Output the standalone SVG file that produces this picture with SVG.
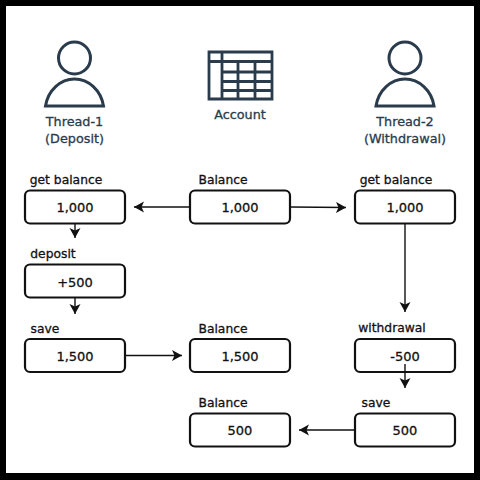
<svg xmlns="http://www.w3.org/2000/svg" width="480" height="480" viewBox="0 0 480 480">
<style>
text{font-family:"DejaVu Sans","Noto Sans",sans-serif;font-size:12.300px;fill:#111;stroke:#111;stroke-width:.3;text-anchor:middle}
.b{fill:#fff;stroke:#111;stroke-width:2.2}
.v{font-size:13px}
.s{fill:#2a3b4c;stroke:#2a3b4c;font-size:12.800px}
.i{fill:none;stroke:#2a3b4c;stroke-width:3}
.t{fill:none;stroke:#2a3b4c;stroke-width:2.800}
.c{fill:none;stroke:#111;stroke-width:1.400;marker-end:url(#a)}
</style>
<defs>
<marker id="a" markerUnits="userSpaceOnUse" markerWidth="13" markerHeight="12" refX="10" refY="5.500" orient="auto"><path d="M0 0L10 5.500L0 11L2.500 5.500Z" fill="#111"/></marker>
<g id="person"><circle cx="0" cy="0" r="16" class="i"/><path d="M-29 48A29.500 33 0 0 1 29 48Z" class="i"/></g>
</defs>
<rect width="480" height="480" fill="#000"/>
<rect x="6" y="6" width="468" height="467" fill="#fff"/>
<g id="thread1"><use href="#person" x="74.500" y="58"/><text class="s" x="74.500" y="126">Thread-1</text><text class="s" x="74.500" y="143">(Deposit)</text></g>
<g id="account">
<path class="t" d="M209 52H272V99H209ZM209 61.500H272M222 52V99M222 72H272M222 81.500H272M222 90.500H272M238 61.500V99M255 61.500V99"/>
<text class="s" x="240" y="119">Account</text></g>
<g id="thread2"><use href="#person" x="405" y="58"/><text class="s" x="405" y="126">Thread-2</text><text class="s" x="405" y="143">(Withdrawal)</text></g>
<g id="n1"><text x="66" y="184">get balance</text><rect class="b" x="25" y="190.500" width="100" height="33" rx="5"/><text class="v" x="75" y="212">1,000</text></g>
<g id="n2"><text x="223" y="184">Balance</text><rect class="b" x="190" y="190.500" width="100" height="33" rx="5"/><text class="v" x="240" y="212">1,000</text></g>
<g id="n3"><text x="396" y="184">get balance</text><rect class="b" x="355" y="190.500" width="100" height="33" rx="5"/><text class="v" x="405" y="212">1,000</text></g>
<g id="n4"><text x="53" y="258">deposit</text><rect class="b" x="25" y="264.500" width="100" height="33" rx="5"/><text class="v" x="75" y="287">+500</text></g>
<g id="n5"><text x="45" y="333">save</text><rect class="b" x="25" y="339" width="100" height="33" rx="5"/><text class="v" x="75" y="361">1,500</text></g>
<g id="n6"><text x="223" y="333">Balance</text><rect class="b" x="190" y="339" width="100" height="33" rx="5"/><text class="v" x="240" y="361">1,500</text></g>
<g id="n7"><text x="392" y="332">withdrawal</text><rect class="b" x="355" y="339" width="100" height="33" rx="5"/><text class="v" x="405" y="361">-500</text></g>
<g id="n8"><text x="223" y="407">Balance</text><rect class="b" x="190" y="413.500" width="100" height="33" rx="5"/><text class="v" x="240" y="435">500</text></g>
<g id="n9"><text x="376" y="407">save</text><rect class="b" x="355" y="413.500" width="100" height="33" rx="5"/><text class="v" x="405" y="435">500</text></g>
<g id="connectors">
<path class="c" d="M190 207H134"/>
<path class="c" d="M290 207L346 207.500"/>
<path class="c" d="M75 224V238"/>
<path class="c" d="M75 298V314"/>
<path class="c" d="M125 355.500H182"/>
<path class="c" d="M405 224V312"/>
<path class="c" d="M405 364V388"/>
<path class="c" d="M355 430H299"/>
</g>
</svg>
